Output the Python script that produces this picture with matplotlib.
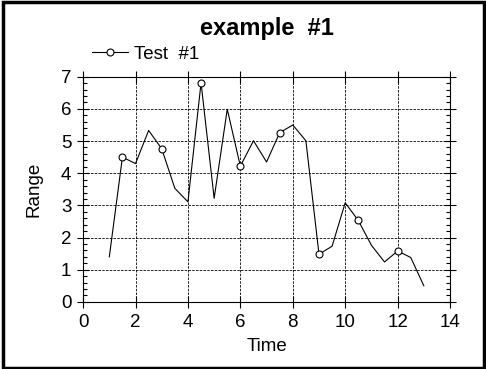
import matplotlib
matplotlib.use("Agg")
import matplotlib.pyplot as plt
from matplotlib.patches import Rectangle
from matplotlib.ticker import MultipleLocator

plt.rcParams["font.family"] = ["Liberation Sans", "DejaVu Sans"]

# data
time = [1, 1.5, 2, 2.5, 3, 3.5, 4, 4.5, 5, 5.5, 6, 6.5, 7,
        7.5, 8, 8.5, 9, 9.5, 10, 10.5, 11, 11.5, 12, 12.5, 13]
test1 = [1.40, 4.50, 4.30, 5.33, 4.76, 3.53, 3.11, 6.81, 3.22, 5.99, 4.22, 5.01, 4.35,
         5.26, 5.50, 5.01, 1.48, 1.73, 3.08, 2.53, 1.76, 1.24, 1.58, 1.38, 0.50]

fig = plt.figure(figsize=(4.86, 3.69), dpi=100)
ax = fig.add_axes([0.171, 0.182, 0.755, 0.610])

ax.plot(time, test1, color="black", lw=0.8, marker="o", markevery=(1, 3),
        markersize=5, markerfacecolor="white", markeredgecolor="black",
        markeredgewidth=0.8, label="Test  #1")

ax.set_xlim(0, 14)
ax.set_ylim(0, 7)
ax.xaxis.set_major_locator(MultipleLocator(2))
ax.yaxis.set_major_locator(MultipleLocator(1))
ax.yaxis.set_minor_locator(MultipleLocator(0.2))
ax.tick_params(which="major", direction="inout", top=True, right=True,
               labelsize=13.5, width=0.8, length=9, pad=4)
ax.tick_params(which="minor", direction="in", top=True, right=True,
               width=0.8, length=3)
ax.grid(True, which="major", color="black", linestyle=(0, (3, 1.5)), lw=0.6)
for s in ax.spines.values():
    s.set_linewidth(0.8)

ax.set_xlabel("Time", fontsize=13.5, labelpad=5)
ax.set_ylabel("Range", fontsize=13.5, labelpad=13)
ax.set_title("example  #1", fontsize=17, fontweight="bold", pad=30)

ax.legend(loc="center left", bbox_to_anchor=(0.025, 1.1), frameon=False,
          fontsize=13.5, handlelength=1.9, handletextpad=0.3, borderaxespad=0.0,
          borderpad=0.0)

fig.patches.append(Rectangle((0.006, 0.004), 0.99, 0.99, transform=fig.transFigure,
                             fill=False, edgecolor="black", lw=2.5))

fig.savefig("out.png", dpi=100)
